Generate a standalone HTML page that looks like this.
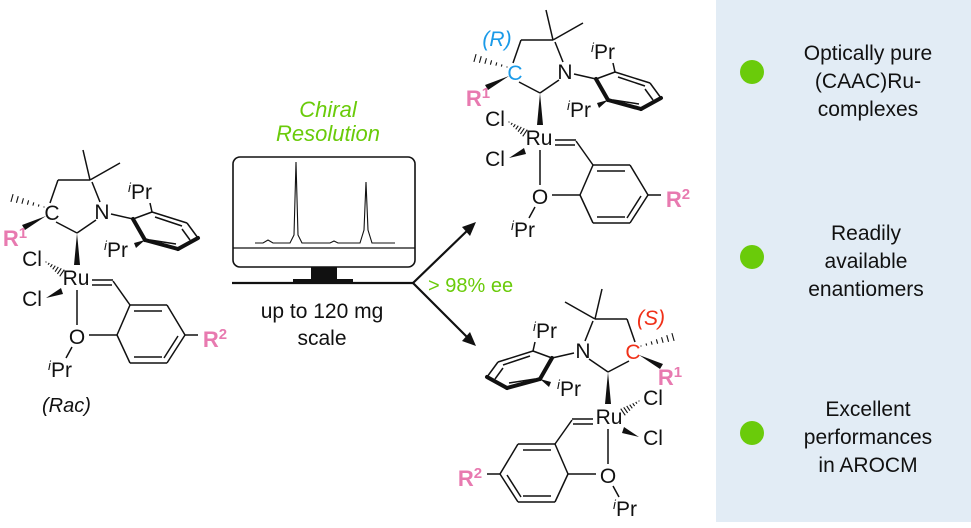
<!DOCTYPE html>
<html><head><meta charset="utf-8"><style>
html,body{margin:0;padding:0;background:#fff;}
svg{display:block;font-family:"Liberation Sans",Arial,sans-serif;}
</style></head><body>
<svg id="s" width="971" height="528" viewBox="0 0 971 528" xmlns="http://www.w3.org/2000/svg">
<rect x="716" y="0" width="255" height="522" fill="#e2ecf5"/>
<g fill="#6acb0a">
<circle cx="752" cy="72" r="12"/><circle cx="752" cy="257" r="12"/><circle cx="752" cy="433" r="12"/>
</g>
<g font-size="21" text-anchor="middle" fill="#111">
<text x="868" y="60">Optically pure</text><text x="868" y="88">(CAAC)Ru-</text><text x="868" y="116">complexes</text>
<text x="866" y="240">Readily</text><text x="866" y="268">available</text><text x="866" y="296">enantiomers</text>
<text x="868" y="416">Excellent</text><text x="868" y="444">performances</text><text x="868" y="472">in AROCM</text>
</g>
<g stroke="#111" fill="none">
<rect x="233" y="157" width="182" height="110" rx="7" stroke-width="1.6"/>
<line x1="233" y1="248" x2="415" y2="248" stroke-width="1.2"/>
<path d="M255,243 L263,243 L268,240 L273,243 L290,243 L294,235 L296,162 L298,235 L302,243 L330,243 L334,241 L338,243 L360,243 L364,230 L366,182 L368,230 L372,243 L395,243" stroke-width="1.1"/>
<line x1="232" y1="283" x2="413" y2="283" stroke-width="2.2"/>
<line x1="413" y1="283" x2="470" y2="228" stroke-width="2.2"/>
<line x1="413" y1="283" x2="470" y2="340" stroke-width="2.2"/>
</g>
<rect x="311" y="267" width="26" height="13" fill="#111"/>
<rect x="293" y="279" width="60" height="5" fill="#111"/>
<polygon points="476,222 462,227 470,236" fill="#111"/>
<polygon points="476,346 470,332 462,341" fill="#111"/>
<g font-size="22" font-style="italic" fill="#6acb0a" text-anchor="middle">
<text x="328" y="117">Chiral</text><text x="328" y="141">Resolution</text>
</g>
<g font-size="21" fill="#111" text-anchor="middle">
<text x="322" y="318">up to 120 mg</text><text x="322" y="345">scale</text>
</g>
<text x="428" y="292" font-size="20" fill="#6acb0a">&gt; 98% ee</text>
<text x="42" y="412" font-size="20" font-style="italic" fill="#111">(Rac)</text>
<g id="mols"></g>
</svg>
<script>
(function(){
var NS="http://www.w3.org/2000/svg";
var L=[[90,180,83,150],[90,180,120,163],[90,180,58,180],[58,180,50,203],[56,222,77,233],[77,233,96,220],[100,202,92,182],
[111,214,133,219],[133,219,152,212],[152,212,187,223],[187,223,198,238],[152,212,150,203],
[155,217,182,226],[182,229,190,240],[150,240,176,244],
[92,280,113,280],[92,285,112,285],[113,281,130,305],
[130,305,167,305],[167,305,185,335],[185,335,167,363],[167,363,130,363],[130,363,117,335],[117,335,130,305],
[134,311,162,311],[178,336,164,358],[134,357,162,357],
[89,335,117,335],[77,290,77,325],[72,347,66,358],[185,335,198,335]];
var B=[[133,219,145,240],[145,240,178,249],[178,249,198,238]];
var W=[[[77,233],[74,265],[80,265]],[[46,216],[25,230],[22,225]],[[46,298],[61,288],[63,294]],[[145,240],[134,243],[136,248]]];
var H=[[44,207,12,198],[46,262,62,273]];
function mk(tag,at){var e=document.createElementNS(NS,tag);for(var k in at)e.setAttribute(k,at[k]);return e;}
var g=document.getElementById('mols');
function draw(f,cc,lab,labcol){
 L.forEach(function(l){var a=f(l[0],l[1]),b=f(l[2],l[3]);g.appendChild(mk('line',{x1:a[0],y1:a[1],x2:b[0],y2:b[1],stroke:'#111','stroke-width':1.5}));});
 B.forEach(function(l){var a=f(l[0],l[1]),b=f(l[2],l[3]);g.appendChild(mk('line',{x1:a[0],y1:a[1],x2:b[0],y2:b[1],stroke:'#111','stroke-width':4,'stroke-linecap':'round'}));});
 W.forEach(function(w){g.appendChild(mk('polygon',{points:w.map(function(p){return f(p[0],p[1]).join(',');}).join(' '),fill:'#111'}));});
 H.forEach(function(h){for(var i=0;i<=6;i++){var t=i/6,x=h[0]+(h[2]-h[0])*t,y=h[1]+(h[3]-h[1])*t;var dx=h[2]-h[0],dy=h[3]-h[1],n=Math.hypot(dx,dy);var px=-dy/n,py=dx/n,w=0.5+3.5*t;var a=f(x+px*w,y+py*w),b=f(x-px*w,y-py*w);g.appendChild(mk('line',{x1:a[0],y1:a[1],x2:b[0],y2:b[1],stroke:'#111','stroke-width':1.1}));}});
 function T(html,x,y,col,sz,it,bold){var p=f(x,y);var t=mk('text',{x:p[0],y:p[1],'text-anchor':'middle','font-size':sz||21,fill:col||'#111'});if(it)t.setAttribute('font-style','italic');if(bold)t.setAttribute('font-weight','bold');t.innerHTML=html;g.appendChild(t);}
 var ipr='<tspan font-size="13" font-style="italic" dy="-7">i</tspan><tspan dy="7">Pr</tspan>';
 T('C',52,220,cc);T('N',102,219);T('Ru',76,285);T('Cl',32,266);T('Cl',32,306);T('O',77,344);
 T(ipr,140,199);T(ipr,116,257);T(ipr,60,377);
 T('R<tspan font-size="15" dy="-8">1</tspan>',15,246,'#e87ab0',22,false,true);
 T('R<tspan font-size="15" dy="-8">2</tspan>',215,347,'#e87ab0',22,false,true);
 if(lab)T(lab,34,186,labcol,21,true);
}
draw(function(x,y){return[x,y];},'#111');
draw(function(x,y){return[x+463,y-140];},'#1a9ae8','(R)','#1a9ae8');
draw(function(x,y){return[685-x,y+139];},'#f03018','(S)','#f03018');
})();
</script>
</body></html>
